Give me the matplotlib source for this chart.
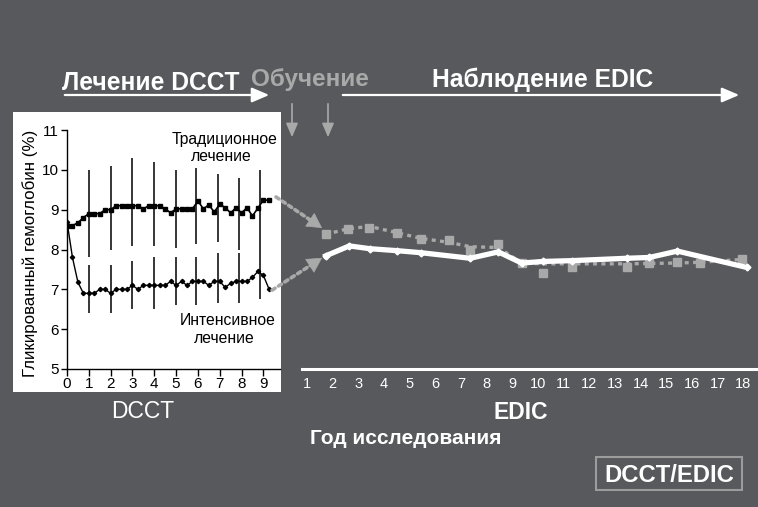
import numpy as np
import matplotlib
matplotlib.use("Agg")
import matplotlib.pyplot as plt
from matplotlib.patches import Rectangle, FancyArrowPatch
from matplotlib.transforms import IdentityTransform

W, H = 758, 507
BG = "#58595c"
GREY = "#a9a9a9"

plt.rcParams["font.family"] = ["Liberation Sans", "DejaVu Sans"]

# DCCT: HbA1c поквартально, годы 0..9.25
dcct_t = np.arange(0, 9.5, 0.25)
conv = [8.6, 8.6, 8.67, 8.8, 8.9, 8.9, 8.9, 9.0, 9.0, 9.1,
        9.1, 9.1, 9.1, 9.1, 9.02, 9.1, 9.1, 9.1, 9.02, 8.92,
        9.02, 9.02, 9.02, 9.02, 9.22, 9.02, 9.12, 8.94, 9.14, 9.05,
        8.92, 9.05, 8.92, 9.05, 8.84, 9.04, 9.24, 9.24]
intens = [8.7, 7.8, 7.18, 6.9, 6.9, 6.9, 7.0, 7.0, 6.9, 7.0,
          7.0, 7.0, 7.1, 7.0, 7.1, 7.1, 7.1, 7.1, 7.1, 7.2,
          7.1, 7.2, 7.1, 7.2, 7.2, 7.2, 7.1, 7.2, 7.2, 7.05,
          7.15, 7.2, 7.2, 7.2, 7.3, 7.45, 7.35, 7.02]

# разброс (вертикальные отрезки)
bar_x = [1.0, 2.0, 3.0, 4.0, 5.0, 5.9, 6.9, 7.9, 8.85]
conv_lo = [7.8, 8.0, 8.1, 8.1, 8.05, 8.15, 8.2, 8.0, 8.0]
conv_hi = [10.0, 10.1, 10.3, 10.2, 10.0, 10.05, 9.9, 9.8, 10.0]
int_lo = [6.4, 6.4, 6.5, 6.5, 6.6, 6.6, 6.65, 6.65, 6.75]
int_hi = [7.6, 7.6, 7.7, 7.8, 7.8, 7.8, 7.92, 7.9, 8.0]

dcct_ticks = list(range(0, 10))
y_ticks = [5, 6, 7, 8, 9, 10, 11]

# EDIC
edic_ticks = list(range(1, 19))
edic_conv_x = [1.74, 2.60, 3.44, 4.53, 5.44, 6.53, 7.37, 8.46, 9.37, 10.21,
               11.32, 13.47, 14.34, 15.43, 16.32, 17.94]
edic_conv = [8.38, 8.52, 8.53, 8.41, 8.26, 8.25, 7.98, 8.13, 7.67, 7.40,
             7.56, 7.56, 7.67, 7.69, 7.67, 7.75]
edic_conv_trend = [8.38, 8.52, 8.58, 8.42, 8.28, 8.18, 8.07, 8.05, 7.66, 7.64,
                   7.64, 7.64, 7.65, 7.66, 7.68, 7.75]
edic_int_x = [1.74, 2.66, 3.46, 4.53, 5.44, 7.37, 8.46, 9.37, 10.20, 11.32,
              13.47, 14.34, 15.43, 18.13]
edic_int = [7.84, 8.09, 8.02, 7.97, 7.92, 7.78, 7.94, 7.66, 7.70, 7.72,
            7.78, 7.80, 7.96, 7.55]


def fx(px):
    return px / W


def fy(py):
    return 1 - py / H


fig = plt.figure(figsize=(W / 100, H / 100), dpi=100, facecolor=BG)

# белая врезка DCCT
fig.add_artist(Rectangle((fx(13), fy(392)), fx(281) - fx(13), fy(112) - fy(392),
                         transform=fig.transFigure, facecolor="white",
                         edgecolor="none", zorder=-1))

ax1 = fig.add_axes([fx(67), fy(369), fx(283) - fx(67), fy(130) - fy(369)])
ax1.set_facecolor("none")
ax1.set_xlim(0, 9.9)
ax1.set_ylim(5, 11)
for s in ["top", "right"]:
    ax1.spines[s].set_visible(False)
for s in ["left", "bottom"]:
    ax1.spines[s].set_linewidth(1.0)
ax1.spines["bottom"].set_bounds(0, 9.75)
ax1.set_xticks(dcct_ticks)
ax1.set_yticks(y_ticks)
ax1.tick_params(axis="x", direction="out", length=5, width=1, pad=1, labelsize=11)
ax1.tick_params(axis="y", direction="out", length=4, width=1, pad=2, labelsize=11)

ax1.vlines(bar_x, conv_lo, conv_hi, color="black", lw=1.1)
ax1.vlines(bar_x, int_lo, int_hi, color="black", lw=1.1)
ax1.plot(dcct_t, conv, color="black", lw=1.2, marker="s", ms=3.2)
ax1.plot(dcct_t, intens, color="black", lw=1.0, marker="D", ms=2.2)

ax1.text(7.2, 10.64, "Традиционное", ha="center", va="baseline", fontsize=11.3)
ax1.text(7.07, 10.22, "лечение", ha="center", va="baseline", fontsize=11.3)
ax1.text(7.35, 6.10, "Интенсивное", ha="center", va="baseline", fontsize=11.3)
ax1.text(7.21, 5.66, "лечение", ha="center", va="baseline", fontsize=11.3)

fig.text(fx(30), fy(253), "Гликированный гемоглобин (%)", rotation=90,
         ha="center", va="center", fontsize=12.2, color="black")

# EDIC
ax2 = fig.add_axes([fx(302), fy(369), fx(758) - fx(302), fy(130) - fy(369)])
ax2.set_facecolor("none")
ax2.set_xlim(0.817, 18.57)
ax2.set_ylim(5, 11)
for s in ["top", "right", "left"]:
    ax2.spines[s].set_visible(False)
ax2.spines["bottom"].set_color("white")
ax2.spines["bottom"].set_linewidth(2.2)
ax2.set_xticks(edic_ticks)
ax2.set_yticks([])
ax2.tick_params(axis="x", length=0, pad=6, labelsize=10.5, labelcolor="white")

ax2.plot(edic_conv_x, edic_conv_trend, color=GREY, lw=2.4, ls=(0, (1.2, 1.3)))
ax2.plot(edic_conv_x, edic_conv, ls="none", marker="s", ms=6, color=GREY)
ax2.plot(edic_int_x, edic_int, color="white", lw=3.8, marker="D", ms=3.5,
         solid_joinstyle="miter")

# пунктирные стрелки DCCT -> EDIC
links = [((dcct_t[-1] + 0.33, conv[-1] + 0.08), (edic_conv_x[0] - 0.14, edic_conv[0] + 0.16)),
         ((dcct_t[-1] + 0.15, intens[-1] - 0.04), (edic_int_x[0] - 0.14, edic_int[0] - 0.05))]
for pa, pb in links:
    a = ax1.transData.transform(pa)
    b = ax2.transData.transform(pb)
    u = (b - a) / np.hypot(*(b - a))
    m = b - u * 14
    fig.add_artist(FancyArrowPatch(a, m, transform=IdentityTransform(),
                                   arrowstyle="-", color=GREY, lw=2.6,
                                   linestyle=(0, (1, 1.1)), shrinkA=0, shrinkB=0))
    fig.add_artist(FancyArrowPatch(m - u * 2, b, transform=IdentityTransform(),
                                   arrowstyle="-|>,head_length=1.0,head_width=0.55",
                                   mutation_scale=10, color=GREY, lw=0.5,
                                   shrinkA=0, shrinkB=0))

# верхние надписи и стрелки
fig.text(fx(62), fy(90), "Лечение DCCT", color="white", fontsize=17.7,
         fontweight="bold", va="baseline")
fig.text(fx(251), fy(86), "Обучение", color=GREY, fontsize=17.5,
         fontweight="bold", va="baseline")
fig.text(fx(432), fy(87), "Наблюдение EDIC", color="white", fontsize=17.7,
         fontweight="bold", va="baseline")

for x0, x1 in [(62, 272), (340, 742)]:
    fig.add_artist(FancyArrowPatch((fx(x0), fy(95)), (fx(x1), fy(95)),
                                   transform=fig.transFigure,
                                   arrowstyle="-|>,head_length=0.75,head_width=0.32",
                                   mutation_scale=14, color="white", lw=1.6))
for x in [292, 328]:
    fig.add_artist(FancyArrowPatch((fx(x), fy(101)), (fx(x), fy(140)),
                                   transform=fig.transFigure,
                                   arrowstyle="-|>,head_length=0.7,head_width=0.3",
                                   mutation_scale=12, color=GREY, lw=1.2))

# подписи осей
fig.text(fx(143), fy(418), "DCCT", color="white", fontsize=16.5,
         ha="center", va="baseline")
fig.text(fx(521), fy(419), "EDIC", color="white", fontsize=16.5,
         fontweight="bold", ha="center", va="baseline")
fig.text(fx(406), fy(444), "Год исследования", color="white", fontsize=15,
         fontweight="bold", ha="center", va="baseline")

fig.add_artist(Rectangle((fx(596), fy(490)), fx(742) - fx(596), fy(457) - fy(490),
                         transform=fig.transFigure, facecolor="none",
                         edgecolor="#9c9c9c", lw=1.5))
fig.text(fx(669), fy(482), "DCCT/EDIC", color="white", fontsize=17.2,
         fontweight="bold", ha="center", va="baseline")

fig.savefig("out.png", dpi=100, facecolor=BG)
